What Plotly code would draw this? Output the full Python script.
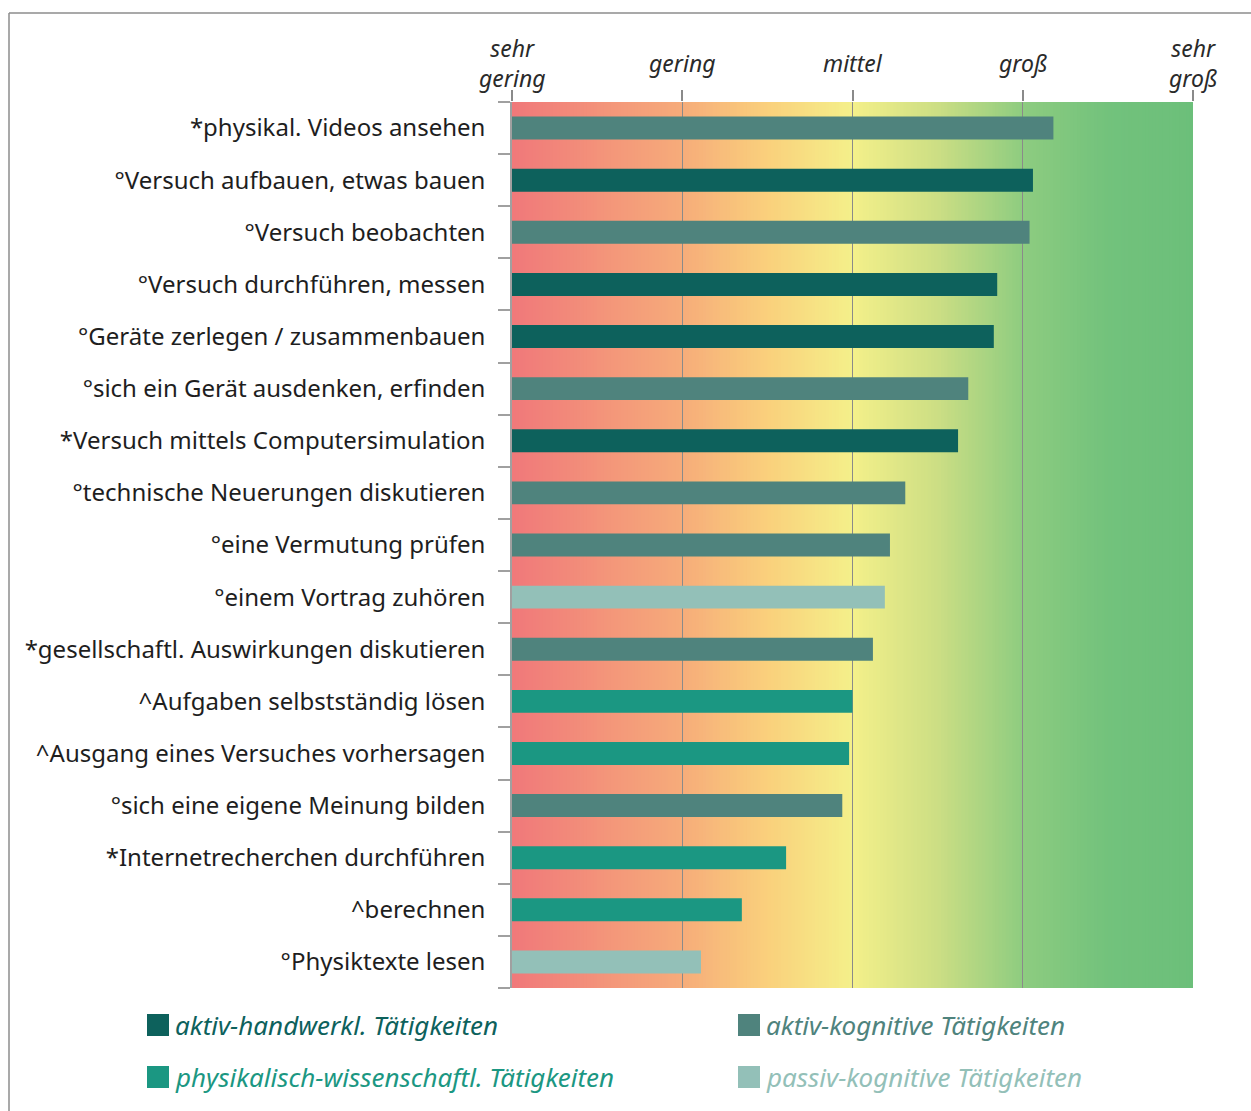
import plotly.graph_objects as go

# Activities (top to bottom), their mean rating and their activity type
activities = [
    "*physikal. Videos ansehen",
    "°Versuch aufbauen, etwas bauen",
    "°Versuch beobachten",
    "°Versuch durchführen, messen",
    "°Geräte zerlegen / zusammenbauen",
    "°sich ein Gerät ausdenken, erfinden",
    "*Versuch mittels Computersimulation",
    "°technische Neuerungen diskutieren",
    "°eine Vermutung prüfen",
    "°einem Vortrag zuhören",
    "*gesellschaftl. Auswirkungen diskutieren",
    "^Aufgaben selbstständig lösen",
    "^Ausgang eines Versuches vorhersagen",
    "°sich eine eigene Meinung bilden",
    "*Internetrecherchen durchführen",
    "^berechnen",
    "°Physiktexte lesen",
]
ratings = [4.18, 4.06, 4.04, 3.85, 3.83, 3.68, 3.62, 3.31, 3.22, 3.19,
           3.12, 3.00, 2.98, 2.94, 2.61, 2.35, 2.11]
groups = ["ak", "ah", "ak", "ah", "ah", "ak", "ah", "ak", "ak", "pk",
          "ak", "pw", "pw", "ak", "pw", "pw", "pk"]

group_keys = ["ah", "ak", "pw", "pk"]
group_names = {
    "ah": "aktiv-handwerkl. Tätigkeiten",
    "ak": "aktiv-kognitive Tätigkeiten",
    "pw": "physikalisch-wissenschaftl. Tätigkeiten",
    "pk": "passiv-kognitive Tätigkeiten",
}
group_colors = {"ah": "#0d615c", "ak": "#4f837d", "pw": "#1b9782", "pk": "#93c0b8"}

scale_vals = [1, 2, 3, 4, 5]
scale_labels = ["sehr<br>gering", "gering", "mittel", "groß", "sehr<br>groß"]

# background colour ramp along the rating scale
ramp = [(1.0, (240, 120, 122)), (2.0, (246, 172, 122)), (2.5, (250, 208, 124)),
        (3.0, (244, 240, 138)), (3.5, (204, 222, 132)), (4.0, (142, 204, 128)),
        (4.5, (114, 194, 124)), (5.0, (108, 191, 122))]

FONT = "Noto Sans"
W, H = 1251, 1111
L, R, T, B = 512, 58, 102, 123
pw_ = W - L - R
ph_ = H - T - B


def px_to_paper(x, y):
    return (x - L) / pw_, (H - B - y) / ph_


def ramp_color(v):
    for (a, ca), (b, cb) in zip(ramp[:-1], ramp[1:]):
        if a <= v <= b:
            t = (v - a) / (b - a)
            c = [round(ca[i] + (cb[i] - ca[i]) * t) for i in range(3)]
            return f"rgb({c[0]},{c[1]},{c[2]})"
    return "rgb(108,191,122)"


fig = go.Figure()

for g in group_keys:
    ys = [a for a, gg in zip(activities, groups) if gg == g]
    xs = [r - 1 for r, gg in zip(ratings, groups) if gg == g]
    fig.add_trace(go.Bar(
        y=ys, x=xs, base=1, orientation="h", width=0.44,
        marker=dict(color=group_colors[g], line=dict(width=0)),
        name=group_names[g], showlegend=False,
    ))

shapes = []
step = 0.02
n = int(round((5 - 1) / step))
for i in range(n):
    x0 = 1 + i * step
    shapes.append(dict(type="rect", xref="x", yref="paper", x0=x0, x1=x0 + step + 0.005,
                       y0=0, y1=1, fillcolor=ramp_color(x0 + step / 2),
                       line=dict(width=0), layer="below"))

# frame lines along the top and left
fx, fy = px_to_paper(9, 13)
fx2, _ = px_to_paper(W + 5, 13)
_, fy2 = px_to_paper(9, H + 5)
shapes.append(dict(type="line", xref="paper", yref="paper", x0=fx, x1=fx2, y0=fy, y1=fy,
                   line=dict(color="#8c8c8c", width=1.5)))
shapes.append(dict(type="line", xref="paper", yref="paper", x0=fx, x1=fx, y0=fy, y1=fy2,
                   line=dict(color="#8c8c8c", width=1.5)))

annotations = []
for v, lab in zip(scale_vals, scale_labels):
    _, ay = px_to_paper(0, 63)
    annotations.append(dict(x=v, y=ay, xref="x", yref="paper", text=f"<i>{lab}</i>",
                            showarrow=False, xanchor="center", yanchor="middle",
                            font=dict(family=FONT, size=23, color="#2a2a2a")))

# legend drawn as swatches and coloured labels in two columns
legend_pos = {"ah": (147, 1025), "ak": (738, 1025), "pw": (147, 1077), "pk": (738, 1077)}
for g in group_keys:
    x, y = legend_pos[g]
    sx0, sy0 = px_to_paper(x, y - 11)
    sx1, sy1 = px_to_paper(x + 22, y + 11)
    shapes.append(dict(type="rect", xref="paper", yref="paper", x0=sx0, x1=sx1, y0=sy1, y1=sy0,
                       fillcolor=group_colors[g], line=dict(width=0)))
    tx, ty = px_to_paper(x + 26, y)
    annotations.append(dict(x=tx, y=ty, xref="paper", yref="paper",
                            text=f"<i>{group_names[g]}</i>", showarrow=False,
                            xanchor="left", yanchor="middle",
                            font=dict(family=FONT, size=26, color=group_colors[g])))

fig.update_layout(
    width=W, height=H,
    margin=dict(l=L, r=R, t=T, b=B),
    paper_bgcolor="white", plot_bgcolor="white",
    barmode="overlay",
    shapes=shapes, annotations=annotations,
    xaxis=dict(range=[1, 5], side="top", tickvals=scale_vals, showticklabels=False,
               ticks="outside", ticklen=11, tickcolor="#8a8a8a", tickwidth=1.5,
               showgrid=True, gridcolor="#8a8a8a", gridwidth=1.2,
               zeroline=False, showline=False, fixedrange=True),
    yaxis=dict(type="category", categoryorder="array", categoryarray=activities[::-1],
               tickson="boundaries", ticks="outside", ticklen=12, tickcolor="#a0a0a0",
               tickwidth=1.5, showline=True, linecolor="#a0a0a0", linewidth=1.5,
               showgrid=False, ticklabelstandoff=20,
               tickfont=dict(family=FONT, size=24, color="#1e1e1e")),
)

fig.write_html("out.html")
